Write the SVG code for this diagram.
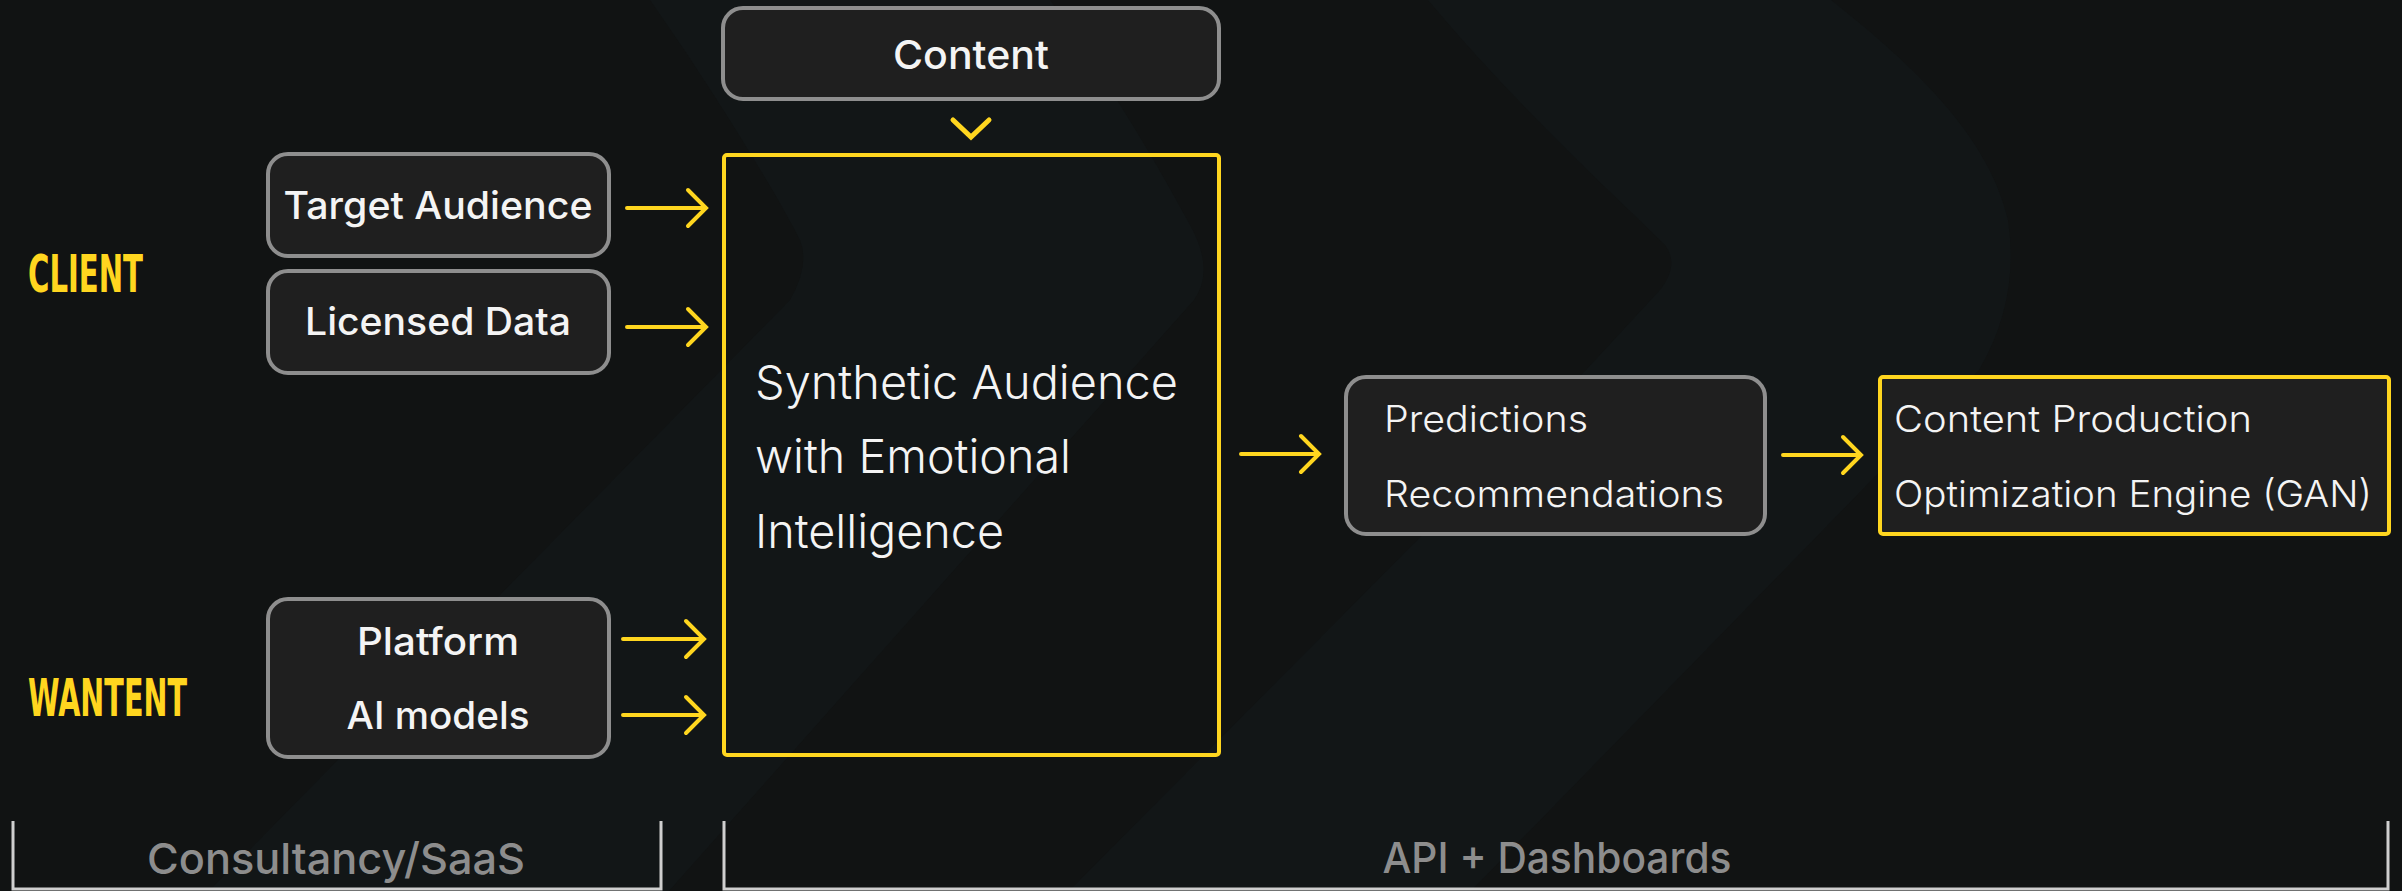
<svg xmlns="http://www.w3.org/2000/svg" width="2402" height="891" viewBox="0 0 2402 891">
  <style>
    .bg { fill: #111313; }
    .band { fill: #121617; }
    .gbox { fill: #1f1f1f; stroke: #8e8e8e; stroke-width: 4; }
    .ybox { stroke: #FFD61F; stroke-width: 4; }
    .lbl { font-family: "Liberation Sans Narrow", "DejaVu Sans Condensed", "Liberation Sans", sans-serif; font-weight: bold; fill: #FFD61F; font-size: 51px; }
    .nt { font-family: Inter, "Noto Sans", "Liberation Sans", sans-serif; font-weight: 500; fill: #f4f4f4; font-size: 38px; text-anchor: middle; }
    .lt { font-family: Inter, "Noto Sans", "Liberation Sans", sans-serif; font-weight: 300; fill: #f4f4f4; font-size: 37px; }
    .big { font-size: 47px; }
    .ft { font-family: Inter, "Noto Sans", "Liberation Sans", sans-serif; font-weight: 500; fill: #8d8d8d; font-size: 43px; text-anchor: middle; }
    .arr { fill: none; stroke: #FFD61F; stroke-width: 4; stroke-linecap: round; stroke-linejoin: miter; }
    .brk { fill: none; stroke: #cfcfcf; stroke-width: 3; }
  </style>

  <g id="background">
    <rect class="bg" x="0" y="0" width="2402" height="891"/>
    <path class="band" d="M1428 0 C1520 110 1620 200 1665 245 Q1680 265 1660 290 L1586 370 L1069 891 L1471 891 L1979 370 Q2020 300 2008 220 C1990 140 1920 70 1831 0 Z"/>
    <path class="band" d="M650 0 C720 100 780 200 800 240 Q810 265 790 300 L209 891 L669 891 L1194 300 Q1215 270 1190 225 C1150 150 1100 70 1050 0 Z"/>
  </g>

  <g id="label-client">
    <text class="lbl" x="28" y="292" textLength="115" lengthAdjust="spacingAndGlyphs">CLIENT</text>
  </g>
  <g id="label-wantent">
    <text class="lbl" x="28" y="716" textLength="159" lengthAdjust="spacingAndGlyphs">WANTENT</text>
  </g>

  <g id="node-target-audience">
    <rect class="gbox" x="268" y="154" width="341" height="102" rx="20"/>
    <text class="nt" x="438" y="219" textLength="309" lengthAdjust="spacingAndGlyphs">Target Audience</text>
  </g>
  <g id="node-licensed-data">
    <rect class="gbox" x="268" y="271" width="341" height="102" rx="20"/>
    <text class="nt" x="438" y="335" textLength="266" lengthAdjust="spacingAndGlyphs">Licensed Data</text>
  </g>
  <g id="node-platform-ai">
    <rect class="gbox" x="268" y="599" width="341" height="158" rx="20"/>
    <text class="nt" x="438" y="655" textLength="162" lengthAdjust="spacingAndGlyphs">Platform</text>
    <text class="nt" x="438" y="729" textLength="183" lengthAdjust="spacingAndGlyphs">AI models</text>
  </g>
  <g id="node-content">
    <rect class="gbox" x="723" y="8" width="496" height="91" rx="20"/>
    <text class="nt" x="971" y="69" style="font-size:40px" textLength="156" lengthAdjust="spacingAndGlyphs">Content</text>
  </g>
  <g id="node-synthetic-audience">
    <rect class="ybox" x="724" y="155" width="495" height="600" rx="3" fill="none"/>
    <text class="lt big" x="755" y="399" textLength="423" lengthAdjust="spacingAndGlyphs">Synthetic Audience</text>
    <text class="lt big" x="755" y="473" textLength="316" lengthAdjust="spacingAndGlyphs">with Emotional</text>
    <text class="lt big" x="755" y="548" textLength="249" lengthAdjust="spacingAndGlyphs">Intelligence</text>
  </g>
  <g id="node-predictions">
    <rect class="gbox" x="1346" y="377" width="419" height="157" rx="20"/>
    <text class="lt" x="1384" y="432" textLength="204" lengthAdjust="spacingAndGlyphs">Predictions</text>
    <text class="lt" x="1384" y="507" textLength="340" lengthAdjust="spacingAndGlyphs">Recommendations</text>
  </g>
  <g id="node-gan">
    <rect class="ybox" x="1880" y="377" width="509" height="157" rx="3" fill="#1f1f1f"/>
    <text class="lt" x="1894" y="432" textLength="358" lengthAdjust="spacingAndGlyphs">Content Production</text>
    <text class="lt" x="1894" y="507" textLength="478" lengthAdjust="spacingAndGlyphs">Optimization Engine (GAN)</text>
  </g>

  <g id="connectors">
    <path class="arr" d="M627 208 H705 M688 190 L706 208 L688 226"/>
    <path class="arr" d="M627 327 H705 M688 309 L706 327 L688 345"/>
    <path class="arr" d="M623 639 H703 M686 621 L704 639 L686 657"/>
    <path class="arr" d="M623 715 H703 M686 697 L704 715 L686 733"/>
    <path class="arr" d="M953 120 L971 137 L989 120" style="stroke-width:5"/>
    <path class="arr" d="M1241 454 H1318 M1301 436 L1319 454 L1301 472"/>
    <path class="arr" d="M1783 455 H1860 M1843 437 L1861 455 L1843 473"/>
  </g>

  <g id="footer-consultancy">
    <path class="brk" d="M13 821 V889 H661 V821"/>
    <text class="ft" x="336" y="874" textLength="378" lengthAdjust="spacingAndGlyphs">Consultancy/SaaS</text>
  </g>
  <g id="footer-api">
    <path class="brk" d="M724 821 V889 H2388 V821"/>
    <text class="ft" x="1557" y="873" textLength="349" lengthAdjust="spacingAndGlyphs">API + Dashboards</text>
  </g>
</svg>
